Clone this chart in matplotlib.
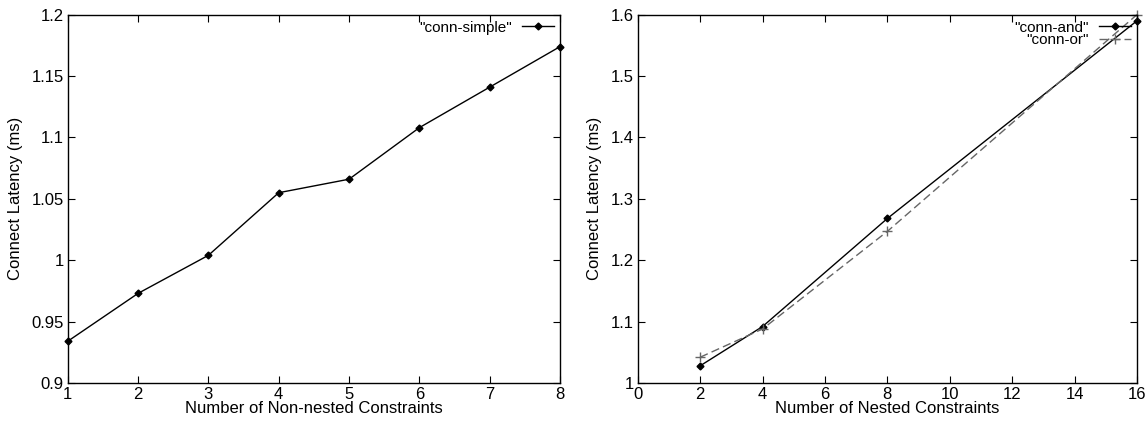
import numpy as np
import matplotlib
matplotlib.use("Agg")
import matplotlib.pyplot as plt

plt.rcParams['font.family'] = ['Liberation Sans', 'DejaVu Sans']
plt.rcParams['font.size'] = 12

# left panel: non-nested constraints
simple_x = [1, 2, 3, 4, 5, 6, 7, 8]
simple_y = [0.934, 0.973, 1.004, 1.055, 1.066, 1.108, 1.141, 1.174]

# right panel: nested constraints
nested_x = [2, 4, 8, 16]
and_y = [1.028, 1.092, 1.268, 1.590]
or_y = [1.042, 1.088, 1.247, 1.600]

fig = plt.figure(figsize=(11.46, 4.22), dpi=100)
ax1 = fig.add_axes([0.0591, 0.0924, 0.4296, 0.8728])
ax2 = fig.add_axes([0.5565, 0.0924, 0.4356, 0.8728])

ax1.plot(simple_x, simple_y, color='black', lw=1, marker='D', ms=3.5,
         label='"conn-simple"', clip_on=False)
ax1.set_xlim(1, 8)
ax1.set_ylim(0.9, 1.2)
ax1.set_xticks(range(1, 9))
ax1.set_yticks([0.9, 0.95, 1.0, 1.05, 1.1, 1.15, 1.2])
ax1.set_yticklabels(['0.9', '0.95', '1', '1.05', '1.1', '1.15', '1.2'])
ax1.set_xlabel("Number of Non-nested Constraints", labelpad=-1)
ax1.set_ylabel("Connect Latency (ms)", labelpad=6)

ax2.plot(nested_x, and_y, color='black', lw=1, marker='D', ms=3.5,
         label='"conn-and"', clip_on=False)
ax2.plot(nested_x, or_y, color='#666666', lw=1, ls=(0, (6, 3)), marker='+', ms=7,
         mew=1, label='"conn-or"', clip_on=False)
ax2.set_xlim(0, 16)
ax2.set_ylim(1.0, 1.6)
ax2.set_xticks(range(0, 17, 2))
ax2.set_yticks([1.0, 1.1, 1.2, 1.3, 1.4, 1.5, 1.6])
ax2.set_yticklabels(['1', '1.1', '1.2', '1.3', '1.4', '1.5', '1.6'])
ax2.set_xlabel("Number of Nested Constraints", labelpad=-1)
ax2.set_ylabel("Connect Latency (ms)", labelpad=6)

for ax in (ax1, ax2):
    ax.tick_params(direction='in', length=5, width=0.8, top=True, right=True, pad=3)
    for s in ax.spines.values():
        s.set_linewidth(1)
    ax.legend(loc='upper right', frameon=False, markerfirst=False, fontsize=11,
              handlelength=2.1, handletextpad=0.65, borderaxespad=0.1,
              borderpad=0.3, labelspacing=-0.1)

fig.savefig("out.png", dpi=100)
